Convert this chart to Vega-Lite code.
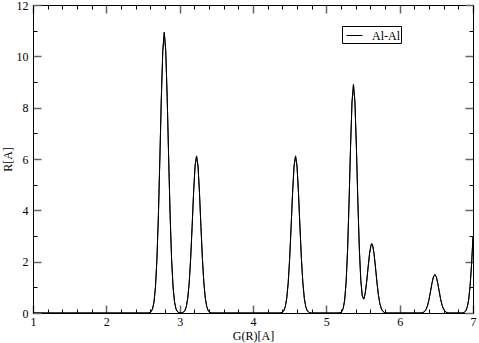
{
  "$schema": "https://vega.github.io/schema/vega-lite/v6.json",
  "autosize": "none",
  "width": 440,
  "height": 308,
  "padding": {"left": 33, "top": 5, "right": 6, "bottom": 30},
  "background": "white",
  "config": {
    "view": {"stroke": null},
    "font": "Liberation Serif",
    "axis": {
      "grid": false,
      "domainColor": "#000",
      "domainWidth": 1,
      "labelFont": "Liberation Serif",
      "labelFontSize": 12,
      "labelColor": "#000",
      "titleFont": "Liberation Serif",
      "titleFontSize": 12,
      "titleFontWeight": "normal",
      "titleColor": "#000"
    }
  },
  "data": {"values": [
    {"x": 1, "y": 0}, {"x": 2.57, "y": 0},
    {"x": 2.59, "y": 0.015}, {"x": 2.61, "y": 0.052}, {"x": 2.63, "y": 0.159}, {"x": 2.65, "y": 0.428}, {"x": 2.67, "y": 1.012},
    {"x": 2.69, "y": 2.093}, {"x": 2.71, "y": 3.795}, {"x": 2.73, "y": 6.03}, {"x": 2.75, "y": 8.39}, {"x": 2.77, "y": 10.23},
    {"x": 2.79, "y": 10.93}, {"x": 2.81, "y": 10.23}, {"x": 2.83, "y": 8.39}, {"x": 2.85, "y": 6.03}, {"x": 2.87, "y": 3.795},
    {"x": 2.89, "y": 2.093}, {"x": 2.91, "y": 1.012}, {"x": 2.93, "y": 0.428}, {"x": 2.95, "y": 0.159}, {"x": 2.97, "y": 0.052},
    {"x": 2.99, "y": 0.015}, {"x": 3.01, "y": 0.003},
    {"x": 3.03, "y": 0.008}, {"x": 3.05, "y": 0.029}, {"x": 3.07, "y": 0.089}, {"x": 3.09, "y": 0.24}, {"x": 3.11, "y": 0.567},
    {"x": 3.13, "y": 1.172}, {"x": 3.15, "y": 2.125}, {"x": 3.17, "y": 3.376}, {"x": 3.19, "y": 4.7}, {"x": 3.21, "y": 5.73},
    {"x": 3.23, "y": 6.12}, {"x": 3.25, "y": 5.73}, {"x": 3.27, "y": 4.7}, {"x": 3.29, "y": 3.376}, {"x": 3.31, "y": 2.125},
    {"x": 3.33, "y": 1.172}, {"x": 3.35, "y": 0.567}, {"x": 3.37, "y": 0.24}, {"x": 3.39, "y": 0.089}, {"x": 3.41, "y": 0.029},
    {"x": 3.43, "y": 0.008}, {"x": 3.45, "y": 0},
    {"x": 4.36, "y": 0},
    {"x": 4.38, "y": 0.008}, {"x": 4.4, "y": 0.029}, {"x": 4.42, "y": 0.089}, {"x": 4.44, "y": 0.24}, {"x": 4.46, "y": 0.567},
    {"x": 4.48, "y": 1.172}, {"x": 4.5, "y": 2.125}, {"x": 4.52, "y": 3.376}, {"x": 4.54, "y": 4.7}, {"x": 4.56, "y": 5.73},
    {"x": 4.58, "y": 6.12}, {"x": 4.6, "y": 5.73}, {"x": 4.62, "y": 4.7}, {"x": 4.64, "y": 3.376}, {"x": 4.66, "y": 2.125},
    {"x": 4.68, "y": 1.172}, {"x": 4.7, "y": 0.567}, {"x": 4.72, "y": 0.24}, {"x": 4.74, "y": 0.089}, {"x": 4.76, "y": 0.029},
    {"x": 4.78, "y": 0.008}, {"x": 4.8, "y": 0},
    {"x": 5.15, "y": 0},
    {"x": 5.17, "y": 0.003}, {"x": 5.19, "y": 0.014}, {"x": 5.21, "y": 0.053}, {"x": 5.23, "y": 0.176}, {"x": 5.25, "y": 0.499},
    {"x": 5.27, "y": 1.204}, {"x": 5.29, "y": 2.474}, {"x": 5.31, "y": 4.333}, {"x": 5.33, "y": 6.462}, {"x": 5.35, "y": 8.216},
    {"x": 5.37, "y": 8.9}, {"x": 5.39, "y": 8.216}, {"x": 5.41, "y": 6.464}, {"x": 5.43, "y": 4.34}, {"x": 5.45, "y": 2.497},
    {"x": 5.47, "y": 1.27}, {"x": 5.49, "y": 0.664}, {"x": 5.51, "y": 0.541}, {"x": 5.53, "y": 0.761}, {"x": 5.55, "y": 1.215},
    {"x": 5.57, "y": 1.789}, {"x": 5.59, "y": 2.328}, {"x": 5.61, "y": 2.656}, {"x": 5.62, "y": 2.7}, {"x": 5.63, "y": 2.656},
    {"x": 5.65, "y": 2.327}, {"x": 5.67, "y": 1.786}, {"x": 5.69, "y": 1.201}, {"x": 5.71, "y": 0.708}, {"x": 5.73, "y": 0.365},
    {"x": 5.75, "y": 0.165}, {"x": 5.77, "y": 0.066}, {"x": 5.79, "y": 0.023}, {"x": 5.81, "y": 0.007}, {"x": 5.83, "y": 0.002},
    {"x": 5.85, "y": 0},
    {"x": 6.28, "y": 0},
    {"x": 6.3, "y": 0.007}, {"x": 6.32, "y": 0.022}, {"x": 6.34, "y": 0.059}, {"x": 6.36, "y": 0.139}, {"x": 6.38, "y": 0.287},
    {"x": 6.4, "y": 0.521}, {"x": 6.42, "y": 0.827}, {"x": 6.44, "y": 1.151}, {"x": 6.46, "y": 1.404}, {"x": 6.48, "y": 1.5},
    {"x": 6.5, "y": 1.404}, {"x": 6.52, "y": 1.151}, {"x": 6.54, "y": 0.827}, {"x": 6.56, "y": 0.521}, {"x": 6.58, "y": 0.287},
    {"x": 6.6, "y": 0.139}, {"x": 6.62, "y": 0.059}, {"x": 6.64, "y": 0.022}, {"x": 6.66, "y": 0.007}, {"x": 6.68, "y": 0},
    {"x": 6.84, "y": 0},
    {"x": 6.86, "y": 0.007}, {"x": 6.88, "y": 0.025}, {"x": 6.9, "y": 0.079}, {"x": 6.92, "y": 0.212}, {"x": 6.94, "y": 0.5},
    {"x": 6.96, "y": 1.034}, {"x": 6.98, "y": 1.875}, {"x": 7.0, "y": 2.979}
  ]},
  "layer": [
    {
      "mark": {"type": "line", "stroke": "#000", "strokeWidth": 1, "clip": true},
      "encoding": {
        "x": {
          "field": "x", "type": "quantitative",
          "scale": {"domain": [1, 7], "nice": false, "zero": false},
          "axis": {
            "orient": "bottom",
            "title": "G(R)[A]",
            "values": [1,1.2,1.4,1.6,1.8,2,2.2,2.4,2.6,2.8,3,3.2,3.4,3.6,3.8,4,4.2,4.4,4.6,4.8,5,5.2,5.4,5.6,5.8,6,6.2,6.4,6.6,6.8,7],
            "labelExpr": "datum.value % 1 === 0 ? format(datum.value, 'd') : ''",
            "tickSize": {"condition": {"test": "datum.value % 1 === 0", "value": -8}, "value": -4},
            "tickColor": {"condition": {"test": "datum.value % 1 === 0", "value": "#666"}, "value": "#000"},
            "tickWidth": {"condition": {"test": "datum.value % 1 === 0", "value": 1.5}, "value": 1},
            "labelPadding": 11,
            "labelFlush": false,
            "labelOverlap": false,
            "titlePadding": -1
          }
        },
        "y": {
          "field": "y", "type": "quantitative",
          "scale": {"domain": [0, 12], "nice": false},
          "axis": {
            "orient": "left",
            "title": "R[A]",
            "values": [0,1,2,3,4,5,6,7,8,9,10,11,12],
            "labelExpr": "datum.value % 2 === 0 ? format(datum.value, 'd') : ''",
            "tickSize": {"condition": {"test": "datum.value % 2 === 0", "value": -8}, "value": -4},
            "tickColor": {"condition": {"test": "datum.value % 2 === 0", "value": "#666"}, "value": "#000"},
            "tickWidth": {"condition": {"test": "datum.value % 2 === 0", "value": 1.5}, "value": 1},
            "labelPadding": 13,
            "labelFlush": false,
            "labelOverlap": false,
            "titlePadding": 2
          }
        },
        "color": {
          "datum": "Al-Al",
          "scale": {"range": ["#000"]},
          "legend": {
            "title": null,
            "orient": "none",
            "legendX": 309,
            "legendY": 21,
            "symbolType": "stroke",
            "symbolSize": 256,
            "symbolStrokeWidth": 1,
            "symbolStrokeColor": "#000",
            "symbolOffset": 3,
            "labelFont": "Liberation Serif",
            "labelFontSize": 12,
            "labelColor": "#000",
            "labelOffset": 9,
            "strokeColor": "#000",
            "padding": 1,
            "cornerRadius": 0,
            "fillColor": "white"
          }
        }
      }
    },
    {
      "mark": {"type": "line", "stroke": "#000", "strokeWidth": 1, "clip": true},
      "encoding": {
        "x": {
          "field": "x", "type": "quantitative",
          "axis": {
            "orient": "top",
            "title": null,
            "labels": false,
            "values": [1,1.2,1.4,1.6,1.8,2,2.2,2.4,2.6,2.8,3,3.2,3.4,3.6,3.8,4,4.2,4.4,4.6,4.8,5,5.2,5.4,5.6,5.8,6,6.2,6.4,6.6,6.8,7],
            "tickSize": {"condition": {"test": "datum.value % 1 === 0", "value": -8}, "value": -4},
            "tickColor": {"condition": {"test": "datum.value % 1 === 0", "value": "#666"}, "value": "#000"},
            "tickWidth": {"condition": {"test": "datum.value % 1 === 0", "value": 1.5}, "value": 1}
          }
        },
        "y": {
          "field": "y", "type": "quantitative",
          "axis": {
            "orient": "right",
            "title": null,
            "labels": false,
            "values": [0,1,2,3,4,5,6,7,8,9,10,11,12],
            "tickSize": {"condition": {"test": "datum.value % 2 === 0", "value": -8}, "value": -4},
            "tickColor": {"condition": {"test": "datum.value % 2 === 0", "value": "#666"}, "value": "#000"},
            "tickWidth": {"condition": {"test": "datum.value % 2 === 0", "value": 1.5}, "value": 1}
          }
        }
      }
    }
  ],
  "resolve": {"axis": {"x": "independent", "y": "independent"}}
}
